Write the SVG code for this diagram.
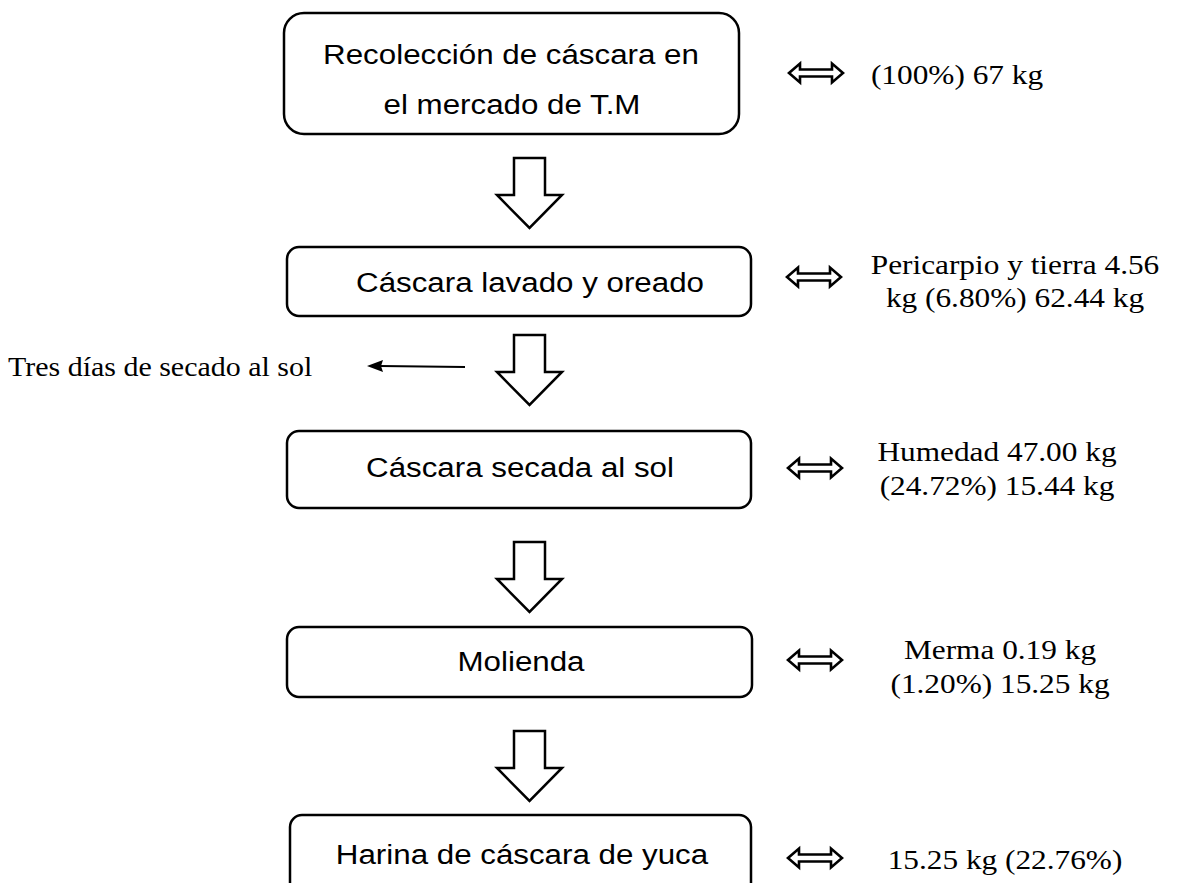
<svg xmlns="http://www.w3.org/2000/svg" width="1183" height="883" viewBox="0 0 1183 883">
<style>
.box{fill:#fff;stroke:#000;stroke-width:2.5}
.blk{fill:#fff;stroke:#000;stroke-width:2.5;stroke-linejoin:miter}
.dbl{fill:#fff;stroke:#000;stroke-width:2.6;stroke-linejoin:miter}
.a{font-family:"Liberation Sans",Arial,sans-serif;font-size:27px;fill:#000;text-anchor:middle}
.t{font-family:"Liberation Serif","Times New Roman",serif;font-size:27px;fill:#000;text-anchor:middle}
.tl{font-family:"Liberation Serif","Times New Roman",serif;font-size:27px;fill:#000;text-anchor:start}
</style>
<defs>
<path id="down" d="M-15.5,0 H15.5 V37 H32.5 L0,70 L-32.5,37 H-15.5 Z"/>
<path id="lr" d="M-27,0 L-16,-9.5 L-16,-3.5 L16,-3.5 L16,-9.5 L27,0 L16,9.5 L16,3.5 L-16,3.5 L-16,9.5 Z"/>
</defs>
<rect width="1183" height="883" fill="#fff"/>

<g id="n1">
<rect class="box" x="284" y="13" width="455" height="121" rx="20"/>
<text class="a" transform="translate(511 64) scale(1.16 1)">Recolección de cáscara en</text>
<text class="a" transform="translate(512 114) scale(1.16 1)">el mercado de T.M</text>
</g>
<g id="n2">
<rect class="box" x="287" y="247" width="464" height="69" rx="12"/>
<text class="a" transform="translate(530 292) scale(1.16 1)">Cáscara lavado y oreado</text>
</g>
<g id="n3">
<rect class="box" x="287" y="431" width="464" height="77" rx="12"/>
<text class="a" transform="translate(520 477) scale(1.16 1)">Cáscara secada al sol</text>
</g>
<g id="n4">
<rect class="box" x="287" y="627" width="465" height="70" rx="12"/>
<text class="a" transform="translate(521 671) scale(1.16 1)">Molienda</text>
</g>
<g id="n5">
<rect class="box" x="290" y="815" width="461" height="80" rx="12"/>
<text class="a" transform="translate(522 864) scale(1.16 1)">Harina de cáscara de yuca</text>
</g>

<g id="connectors">
<use href="#down" class="blk" x="529.5" y="158"/>
<use href="#down" class="blk" x="529.5" y="335"/>
<use href="#down" class="blk" x="529.5" y="542"/>
<use href="#down" class="blk" x="529.5" y="731"/>
<line x1="465" y1="367" x2="380" y2="366" stroke="#000" stroke-width="2.2"/>
<path d="M367,366 L383,360 L381,366 L383,372 Z" fill="#000"/>
<use href="#lr" class="dbl" x="816" y="73"/>
<use href="#lr" class="dbl" x="814" y="277"/>
<use href="#lr" class="dbl" x="815" y="468"/>
<use href="#lr" class="dbl" x="815" y="660"/>
<use href="#lr" class="dbl" x="815" y="858"/>
</g>

<g id="labels">
<text class="tl" transform="translate(8 376) scale(1.11 1)">Tres días de secado al sol</text>
<text class="t" transform="translate(957 84) scale(1.16 1)">(100%) 67 kg</text>
<text class="t" transform="translate(1015 274) scale(1.16 1)">Pericarpio y tierra 4.56</text>
<text class="t" transform="translate(1015 307) scale(1.16 1)">kg (6.80%) 62.44 kg</text>
<text class="t" transform="translate(997 461) scale(1.16 1)">Humedad 47.00 kg</text>
<text class="t" transform="translate(997 495) scale(1.16 1)">(24.72%) 15.44 kg</text>
<text class="t" transform="translate(1000 659) scale(1.16 1)">Merma 0.19 kg</text>
<text class="t" transform="translate(1000 693) scale(1.16 1)">(1.20%) 15.25 kg</text>
<text class="t" transform="translate(1005 869) scale(1.16 1)">15.25 kg (22.76%)</text>
</g>
</svg>
